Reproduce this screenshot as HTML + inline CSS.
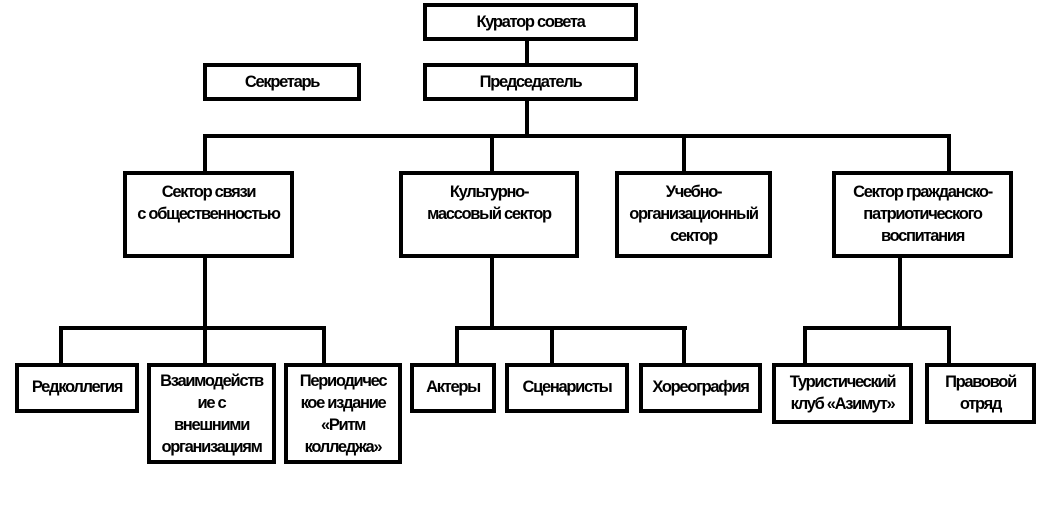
<!DOCTYPE html>
<html><head><meta charset="utf-8"><style>
body{margin:0;width:1040px;height:520px;background:#fff;position:relative;overflow:hidden;font-family:"Liberation Sans","DejaVu Sans",sans-serif;}
.b{position:absolute;box-sizing:border-box;border:4px solid #000;background:#fff;text-align:center;font-weight:bold;font-size:16.5px;line-height:22px;letter-spacing:-1.3px;padding-top:6px;color:#000;white-space:nowrap}
.c{padding-top:4px}
.l{position:absolute;background:#000}
</style></head><body>
<div class="l" style="left:525px;top:41px;width:4px;height:22px"></div>
<div class="l" style="left:525px;top:101px;width:4px;height:36px"></div>
<div class="l" style="left:203px;top:134px;width:748px;height:4px"></div>
<div class="l" style="left:203px;top:134px;width:4px;height:37px"></div>
<div class="l" style="left:490px;top:134px;width:4px;height:37px"></div>
<div class="l" style="left:682px;top:134px;width:4px;height:37px"></div>
<div class="l" style="left:947px;top:134px;width:4px;height:37px"></div>
<div class="l" style="left:203px;top:257px;width:4px;height:72px"></div>
<div class="l" style="left:59px;top:326px;width:267px;height:4px"></div>
<div class="l" style="left:59px;top:326px;width:4px;height:37px"></div>
<div class="l" style="left:203px;top:326px;width:4px;height:37px"></div>
<div class="l" style="left:322px;top:326px;width:4px;height:37px"></div>
<div class="l" style="left:490px;top:257px;width:4px;height:72px"></div>
<div class="l" style="left:455px;top:326px;width:232px;height:4px"></div>
<div class="l" style="left:455px;top:326px;width:4px;height:37px"></div>
<div class="l" style="left:550px;top:326px;width:4px;height:37px"></div>
<div class="l" style="left:682px;top:326px;width:4px;height:37px"></div>
<div class="l" style="left:898px;top:257px;width:4px;height:72px"></div>
<div class="l" style="left:803px;top:326px;width:148px;height:4px"></div>
<div class="l" style="left:803px;top:326px;width:4px;height:37px"></div>
<div class="l" style="left:947px;top:326px;width:4px;height:37px"></div>
<div class="b c" style="left:423px;top:3px;width:215px;height:38px">Куратор совета</div>
<div class="b c" style="left:203px;top:63px;width:158px;height:38px">Секретарь</div>
<div class="b c" style="left:423px;top:63px;width:215px;height:38px">Председатель</div>
<div class="b" style="left:123px;top:171px;width:171px;height:87px">Сектор связи<br>с общественностью</div>
<div class="b" style="left:399px;top:171px;width:180px;height:87px">Культурно-<br>массовый сектор</div>
<div class="b" style="left:615px;top:171px;width:157px;height:87px">Учебно-<br>организационный<br>сектор</div>
<div class="b" style="left:832px;top:171px;width:181px;height:87px">Сектор гражданско-<br>патриотического<br>воспитания</div>
<div class="b" style="left:15px;top:363px;width:124px;height:50px;padding-top:9px">Редколлегия</div>
<div class="b" style="left:147px;top:363px;width:129px;height:101px;padding-top:3px">Взаимодейств<br>ие с<br>внешними<br>организациям</div>
<div class="b" style="left:284px;top:363px;width:118px;height:101px;padding-top:3px">Периодичес<br>кое издание<br>«Ритм<br>колледжа»</div>
<div class="b" style="left:410px;top:363px;width:86px;height:50px;padding-top:9px">Актеры</div>
<div class="b" style="left:505px;top:363px;width:124px;height:50px;padding-top:9px">Сценаристы</div>
<div class="b" style="left:639px;top:363px;width:123px;height:50px;padding-top:9px">Хореография</div>
<div class="b" style="left:772px;top:363px;width:141px;height:61px;padding-top:4px">Туристический<br>клуб «Азимут»</div>
<div class="b" style="left:925px;top:363px;width:111px;height:61px;padding-top:4px">Правовой<br>отряд</div>
</body></html>
